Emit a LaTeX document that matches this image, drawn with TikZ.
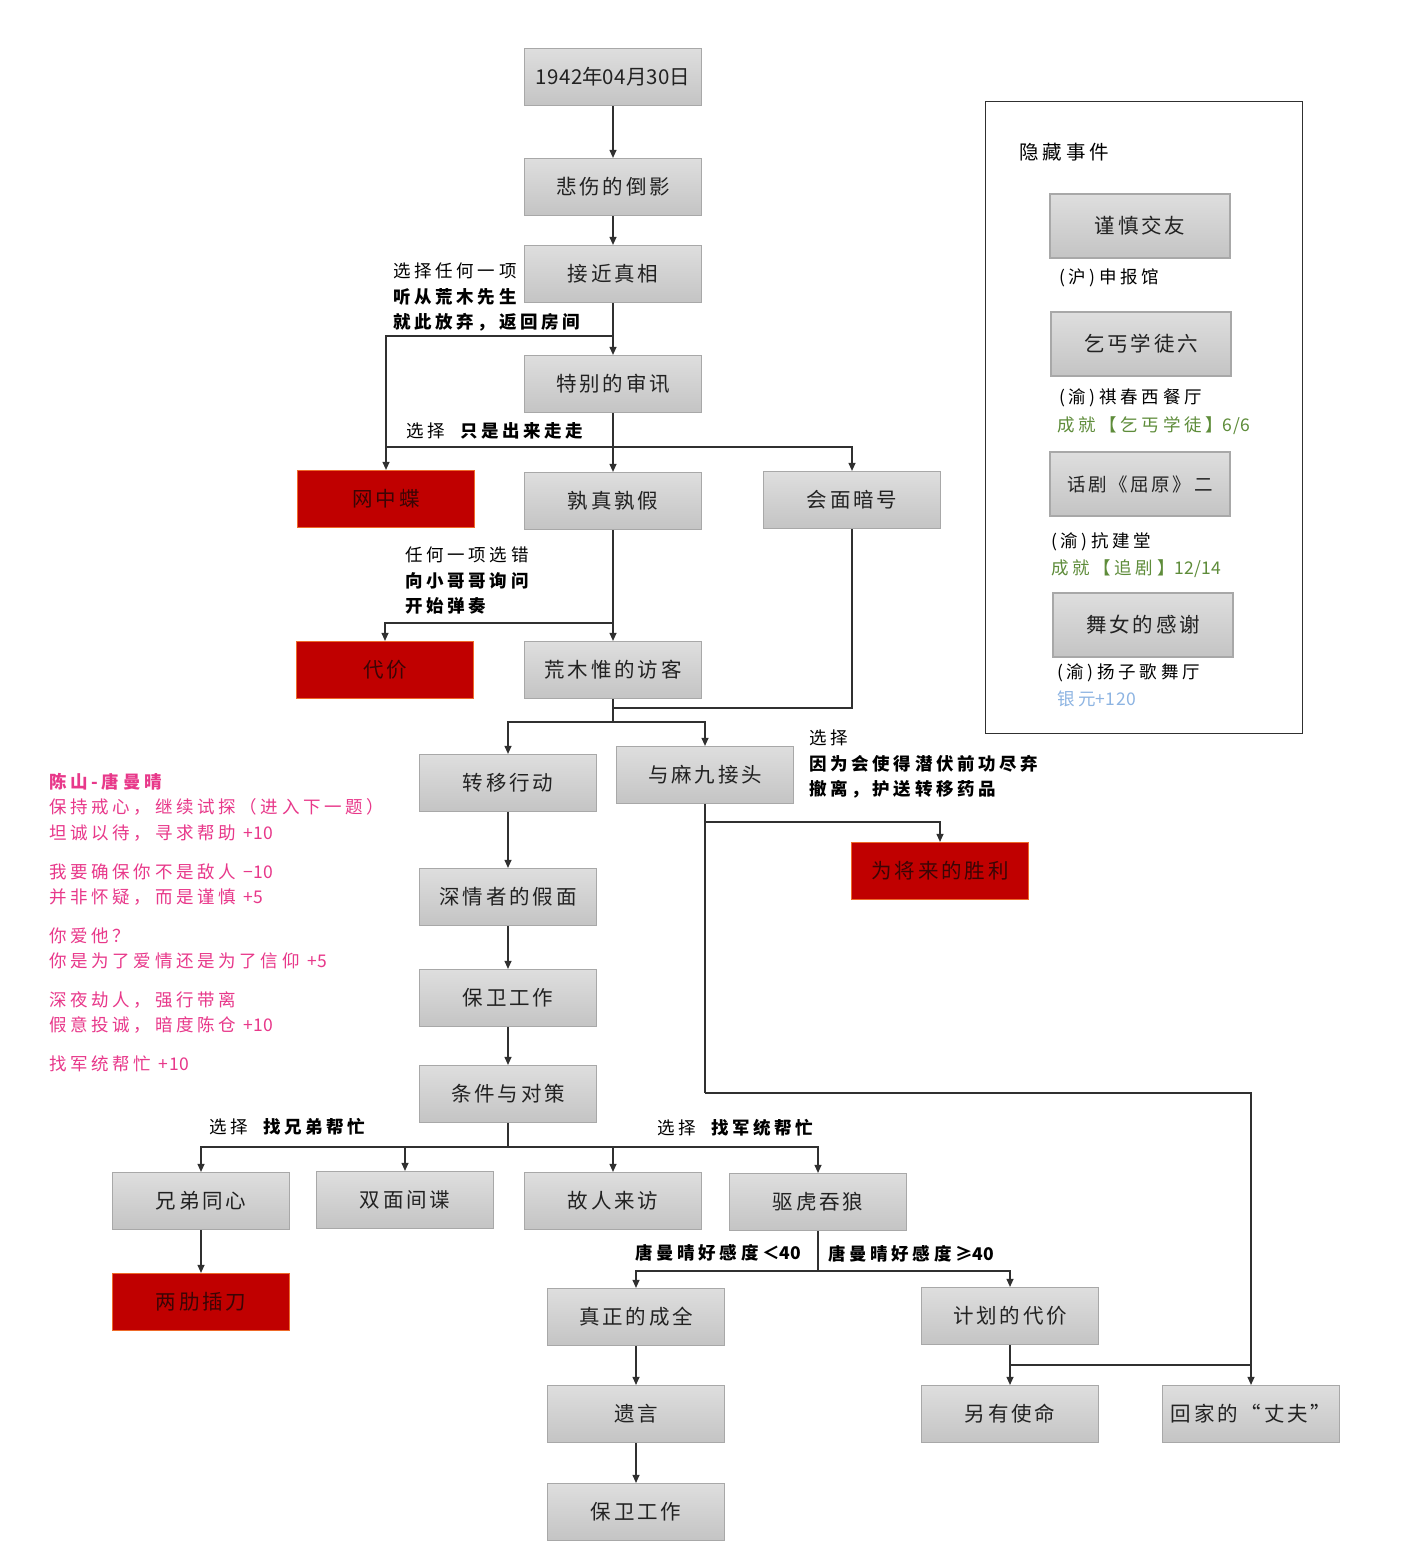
\documentclass[tikz,border=0pt]{standalone}
\usepackage{fontspec}
\setmainfont{Noto Sans CJK SC}
\newfontfamily\bx[LetterSpace=14]{Noto Sans CJK SC}
\newfontfamily\lb[LetterSpace=21]{Noto Sans CJK SC}
\newfontfamily\dg[LetterSpace=2]{Noto Sans CJK SC}
\usetikzlibrary{arrows.meta}
\definecolor{boxtop}{HTML}{DEDEDE}
\definecolor{boxbot}{HTML}{C4C4C4}
\definecolor{boxborder}{HTML}{A8A8A8}
\definecolor{boxred}{HTML}{C00000}
\definecolor{redborder}{HTML}{EE6A2A}
\definecolor{redtext}{HTML}{3A0505}
\definecolor{boxtext}{HTML}{222222}
\definecolor{linec}{HTML}{303030}
\definecolor{pinkc}{HTML}{E8388A}
\definecolor{greenc}{HTML}{5E8C3A}
\definecolor{bluec}{HTML}{8DB4E2}
\tikzset{
  gbox/.style={draw=boxborder, line width=1.2pt, top color=boxtop, bottom color=boxbot,
    minimum width=177pt, minimum height=57pt, inner sep=0pt, text=boxtext,
    font=\bx\fontsize{20.5}{24}\selectfont},
  rbox/.style={draw=redborder, line width=1.2pt, fill=boxred,
    minimum width=177pt, minimum height=57pt, inner sep=0pt, text=redtext,
    font=\bx\fontsize{20.5}{24}\selectfont},
  hbox/.style={gbox, minimum width=180pt, minimum height=64pt},
  lab/.style={anchor=west, inner sep=0pt, text=black, font=\lb\fontsize{17.5}{20}\selectfont},
  pk/.style={lab, text=pinkc},
  arr/.style={-{Triangle[length=8pt,width=7pt]}, line width=1.1pt, draw=linec},
  ln/.style={line width=1.1pt, draw=linec},
}
\newcommand{\D}[1]{{\dg #1}}
\begin{document}
\begin{tikzpicture}[x=1pt,y=-1pt]
\fill[white] (0,0) rectangle (1405,1568);
\useasboundingbox (0,0) rectangle (1405,1568);

% main boxes
\node[gbox] (d0) at (613,77) {\D{1942}年\D{04}月\D{30}日};
\node[gbox] (bsd) at (613,187) {悲伤的倒影};
\node[gbox] (jjzx) at (613,274) {接近真相};
\node[gbox] (tbsx) at (613,384) {特别的审讯};
\node[rbox] (wzd) at (386,499) {网中蝶};
\node[gbox] (szsj) at (613,501) {孰真孰假};
\node[gbox] (hmah) at (852,500) {会面暗号};
\node[rbox] (dj) at (385,670) {代价};
\node[gbox] (hmw) at (613,670) {荒木惟的访客};
\node[gbox] (zyxd) at (508,783) {转移行动};
\node[gbox] (ymj) at (705,775) {与麻九接头};
\node[rbox] (wjl) at (940,871) {为将来的胜利};
\node[gbox] (sqz) at (508,897) {深情者的假面};
\node[gbox] (bwgz) at (508,998) {保卫工作};
\node[gbox] (tjyd) at (508,1094) {条件与对策};
\node[gbox] (xdtx) at (201,1201) {兄弟同心};
\node[gbox] (smjd) at (405,1200) {双面间谍};
\node[gbox] (grlf) at (613,1201) {故人来访};
\node[gbox] (qhtl) at (818,1202) {驱虎吞狼};
\node[rbox] (lldc) at (201,1302) {两肋插刀};
\node[gbox] (zzdcq) at (636,1317) {真正的成全};
\node[gbox] (jhddj) at (1010,1316) {计划的代价};
\node[gbox] (yy) at (636,1414) {遗言};
\node[gbox] (yysm) at (1010,1414) {另有使命};
\node[gbox] (hjdzf) at (1251,1414) {回家的“丈夫”};
\node[gbox] (bwgz2) at (636,1512) {保卫工作};

% hidden events
\node[draw=linec, line width=1pt, minimum width=317pt, minimum height=631pt, inner sep=0pt] (hid) at (1143.5,417.5) {};
\node[lab, font=\lb\fontsize{19.5}{22}\selectfont] (hidt) at (1019,152) {隐藏事件};
\node[hbox] (h1) at (1140,226) {谨慎交友};
\node[lab] (h1a) at (1059,278) {(沪)申报馆};
\node[hbox] (h2) at (1141,344) {乞丐学徒六};
\node[lab] (h2a) at (1059,398) {(渝)祺春西餐厅};
\node[lab, text=greenc] (h2b) at (1057,426) {成就【乞丐学徒】\D{6/6}};
\node[hbox, font=\bx\fontsize{18.5}{22}\selectfont] (h3) at (1140,484) {话剧《屈原》二};
\node[lab] (h3a) at (1051,542) {(渝)抗建堂};
\node[lab, text=greenc] (h3b) at (1051,569) {成就【追剧】\D{12/14}};
\node[hbox] (h4) at (1143,625) {舞女的感谢};
\node[lab] (h4a) at (1057,673) {(渝)扬子歌舞厅};
\node[lab, text=bluec] (h4b) at (1057,699) {银元\D{+120}};

% labels
\node[lab] (l1a) at (393,271) {选择任何一项};
\node[lab] (l1b) at (393,297) {\bfseries 听从荒木先生};
\node[lab] (l1c) at (393,322) {\bfseries 就此放弃，返回房间};
\node[lab] (l2) at (406,431) {选择\ \ \textbf{只是出来走走}};
\node[lab] (l3a) at (405,555) {任何一项选错};
\node[lab] (l3b) at (405,581) {\bfseries 向小哥哥询问};
\node[lab] (l3c) at (405,606) {\bfseries 开始弹奏};
\node[lab] (l4a) at (809,738) {选择};
\node[lab] (l4b) at (809,764) {\bfseries 因为会使得潜伏前功尽弃};
\node[lab] (l4c) at (809,789) {\bfseries 撤离，护送转移药品};
\node[lab] (l5) at (209,1127) {选择\ \ \textbf{找兄弟帮忙}};
\node[lab] (l6) at (657,1128) {选择\ \ \textbf{找军统帮忙}};
\node[lab] (l7) at (635,1253) {\bfseries 唐曼晴好感度＜\D{40}};
\node[lab] (l8) at (828,1254) {\bfseries 唐曼晴好感度≥\D{40}};

% pink notes
\node[pk] (p0) at (49,782) {\bfseries 陈山-唐曼晴};
\node[pk] (p1) at (49,807) {保持戒心，继续试探（进入下一题）};
\node[pk] (p2) at (49,833) {坦诚以待，寻求帮助 \D{+10}};
\node[pk] (p3) at (49,872) {我要确保你不是敌人 \D{−10}};
\node[pk] (p4) at (49,897) {并非怀疑，而是谨慎 \D{+5}};
\node[pk] (p5) at (49,936) {你爱他？};
\node[pk] (p6) at (49,961) {你是为了爱情还是为了信仰 \D{+5}};
\node[pk] (p7) at (49,1000) {深夜劫人，强行带离};
\node[pk] (p8) at (49,1025) {假意投诚，暗度陈仓 \D{+10}};
\node[pk] (p9) at (49,1064) {找军统帮忙 \D{+10}};

% connectors
\draw[arr] (d0) -- (bsd);
\draw[arr] (bsd) -- (jjzx);
\draw[arr] (jjzx) -- (tbsx);
\coordinate (c1) at (613,336);
\draw[arr] (c1) -| (wzd.north);
\draw[arr] (tbsx) -- (szsj);
\coordinate (c2) at (613,447);
\draw[ln] (c2) -- (c2 -| wzd);
\draw[arr] (c2) -| (hmah.north);
\draw[arr] (szsj) -- (hmw);
\coordinate (c3) at (613,623);
\draw[arr] (c3) -| (dj.north);
\coordinate (c4) at (613,708);
\draw[ln] (hmah.south) |- (c4);
\coordinate (c5) at (613,722);
\draw[ln] (hmw.south) -- (c5);
\draw[arr] (c5) -| (zyxd.north);
\draw[arr] (c5) -| (ymj.north);
\draw[arr] (zyxd) -- (sqz);
\draw[arr] (sqz) -- (bwgz);
\draw[arr] (bwgz) -- (tjyd);
\coordinate (c6) at (705,822);
\draw[arr] (c6) -| (wjl.north);
\coordinate (c7) at (705,1093);
\draw[ln] (ymj.south) -- (c7);
\draw[arr] (c7) -| (hjdzf.north);
\coordinate (c8) at (508,1147);
\draw[ln] (tjyd.south) -- (c8);
\draw[arr] (c8) -| (xdtx.north);
\draw[arr] (c8) -| (smjd.north);
\draw[arr] (c8) -| (grlf.north);
\draw[arr] (c8) -| (qhtl.north);
\draw[arr] (xdtx) -- (lldc);
\coordinate (c9) at (818,1271);
\draw[ln] (qhtl.south) -- (c9);
\draw[arr] (c9) -| (zzdcq.north);
\draw[arr] (c9) -| (jhddj.north);
\draw[arr] (zzdcq) -- (yy);
\draw[arr] (yy) -- (bwgz2);
\draw[arr] (jhddj) -- (yysm);
\coordinate (c10) at (1010,1365);
\draw[ln] (c10) -- (c10 -| hjdzf);
\end{tikzpicture}
\end{document}
